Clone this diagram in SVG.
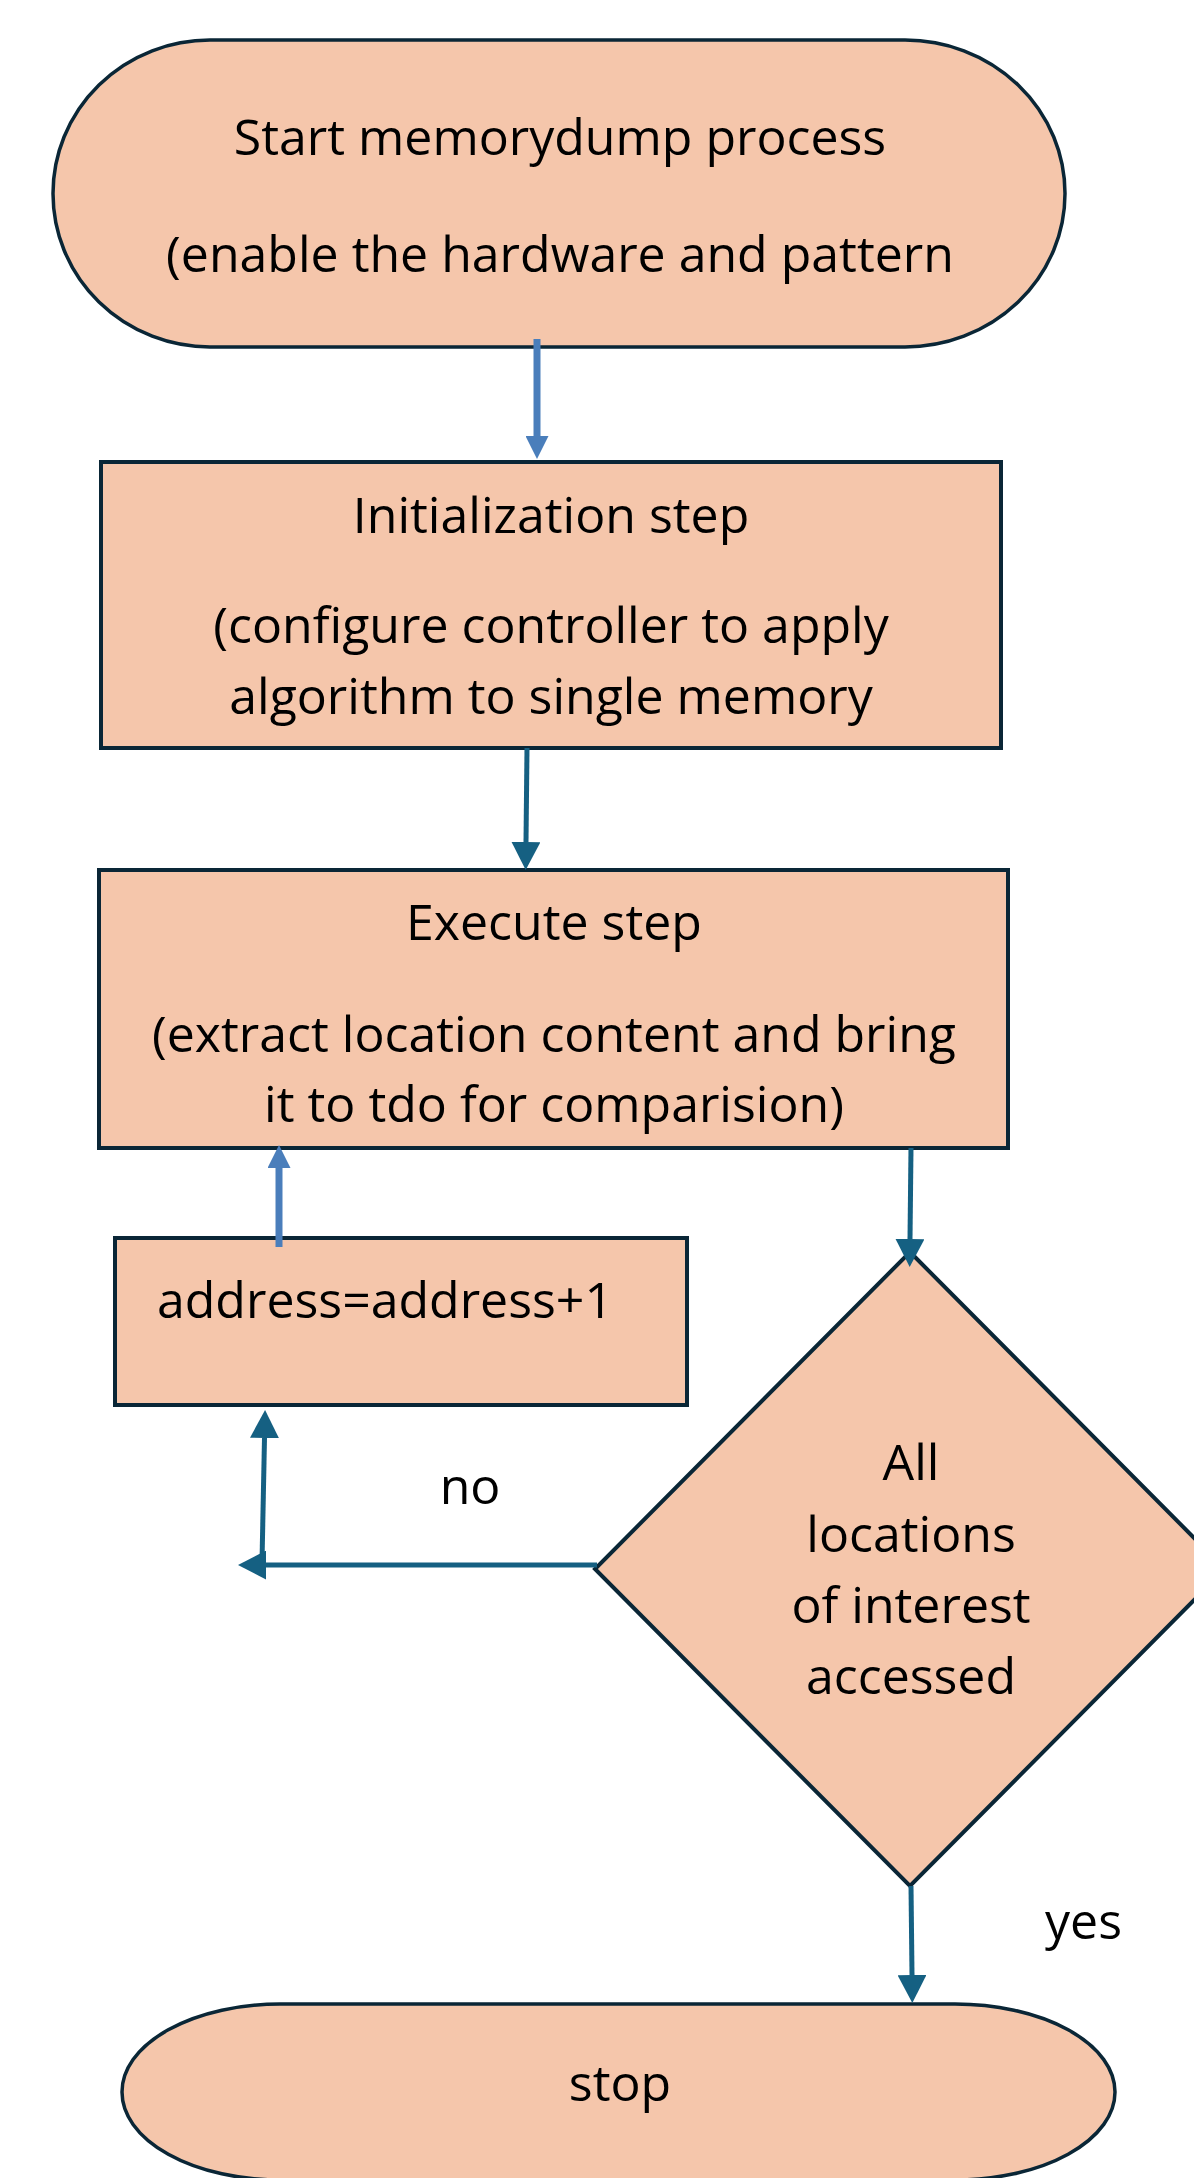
<svg xmlns="http://www.w3.org/2000/svg" width="1194" height="2178" viewBox="0 0 1194 2178">
<style>
.shape{fill:#F5C6AB;stroke:#0A2636;stroke-width:4}
.term{stroke-width:3.5}
.t{font-family:"Open Sans","Liberation Sans",sans-serif;font-size:50px;fill:#000;text-anchor:middle}
.ts{text-anchor:start}
.blue{stroke:#4A7EBB;stroke-width:7;fill:none}
.teal{stroke:#156082;stroke-width:5;fill:none}
</style>
<defs>
<marker id="hb" viewBox="0 0 23 23" refX="0" refY="11.5" markerWidth="23" markerHeight="23" markerUnits="userSpaceOnUse" orient="auto"><path d="M0,0 L23,11.5 L0,23 Z" fill="#4A7EBB"/></marker>
<marker id="ht" viewBox="0 0 28 29" refX="0" refY="14.5" markerWidth="28" markerHeight="29" markerUnits="userSpaceOnUse" orient="auto"><path d="M0,0 L28,14.5 L0,29 Z" fill="#156082"/></marker>
</defs>
<rect width="1194" height="2178" fill="#fff"/>
<g id="start">
<path class="shape term" d="M210 40 H905 A160 153.5 0 0 1 905 347 H210 A157 153.5 0 0 1 210 40 Z"/>
<text class="t" x="560" y="155">Start memorydump process</text>
<text class="t" x="560" y="272">(enable the hardware and pattern</text>
</g>
<g id="init">
<rect class="shape" x="101" y="462" width="900" height="286"/>
<text class="t" x="551" y="533">Initialization step</text>
<text class="t" x="551" y="643">(configure controller to apply</text>
<text class="t" x="551" y="714">algorithm to single memory</text>
</g>
<g id="execute">
<rect class="shape" x="99" y="870" width="909" height="278"/>
<text class="t" x="554" y="940">Execute step</text>
<text class="t" x="554" y="1052">(extract location content and bring</text>
<text class="t" x="554" y="1122">it to tdo for comparision)</text>
</g>
<g id="increment">
<rect class="shape" x="115" y="1238" width="572" height="167"/>
<text class="t ts" x="157" y="1318">address=address+1</text>
</g>
<g id="decision">
<path class="shape" d="M910 1252 L1225 1569 L910 1886 L595 1569 Z"/>
<text class="t" x="911" y="1480">All</text>
<text class="t" x="911" y="1552">locations</text>
<text class="t" x="911" y="1623">of interest</text>
<text class="t" x="911" y="1694">accessed</text>
</g>
<g id="stop">
<path class="shape term" d="M280 2004 H955 A160 88 0 0 1 955 2180 H280 A158 88 0 0 1 280 2004 Z"/>
<text class="t" x="620" y="2101">stop</text>
</g>
<g id="connectors">
<line class="blue" x1="537" y1="339" x2="537" y2="436" marker-end="url(#hb)"/>
<line class="teal" x1="527" y1="748" x2="526" y2="842" marker-end="url(#ht)"/>
<line class="teal" x1="911" y1="1148" x2="910" y2="1239" marker-end="url(#ht)"/>
<line class="blue" x1="279" y1="1247" x2="279" y2="1168" marker-end="url(#hb)"/>
<line class="teal" x1="597" y1="1565" x2="266" y2="1565" marker-end="url(#ht)"/>
<line class="teal" x1="262" y1="1562" x2="264.5" y2="1438" marker-end="url(#ht)"/>
<line class="teal" x1="911" y1="1886" x2="912" y2="1975" marker-end="url(#ht)"/>
<text class="t" x="470" y="1504">no</text>
<text class="t ts" x="1045" y="1939">yes</text>
</g>
</svg>
